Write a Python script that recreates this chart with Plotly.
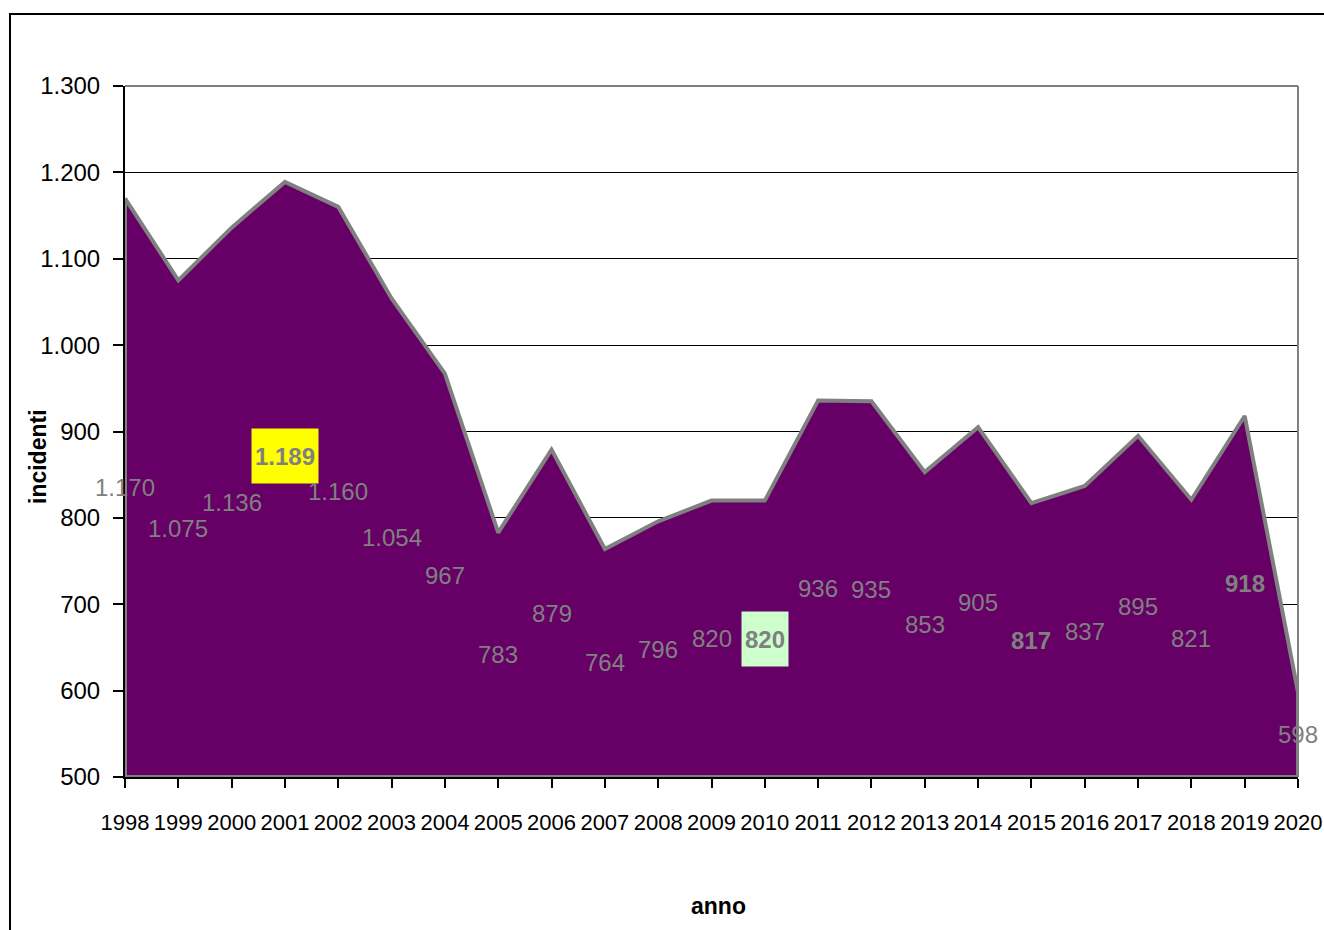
import plotly.graph_objects as go

# Incidenti per anno
anni = list(range(1998, 2021))
incidenti = [1170, 1075, 1136, 1189, 1160, 1054, 967, 783, 879, 764, 796, 820,
             820, 936, 935, 853, 905, 817, 837, 895, 821, 918, 598]

# Etichette evidenziate
grassetto = {2001, 2010, 2015, 2019}
sfondo = {2001: "#FFFF00", 2010: "#CCFFCC"}
spostamento = {2001: 23, 2019: 13}

Y_MIN, Y_MAX = 500, 1300
W, H = 1324, 930
ML, MR, MT, MB = 125, 26, 86, 153
PW, PH = W - ML - MR, H - MT - MB

FONT = "Liberation Sans, Arial"


def fmt(v):
    return f"{v:,}".replace(",", ".")


fig = go.Figure()

# Area chiusa fino al minimo dell'asse
fig.add_trace(go.Scatter(
    x=anni + [anni[-1], anni[0], anni[0]],
    y=incidenti + [Y_MIN, Y_MIN, incidenti[0]],
    mode="lines",
    fill="toself",
    fillcolor="#660066",
    line=dict(color="#808080", width=4),
    hoverinfo="skip",
    showlegend=False,
))

annotations = []
for anno, v in zip(anni, incidenti):
    testo = fmt(v)
    bold = anno in grassetto
    a = dict(
        x=anno, y=(Y_MIN + v) / 2, xref="x", yref="y",
        xanchor="center", yanchor="middle",
        text=f"<b>{testo}</b>" if bold else testo,
        showarrow=False,
        font=dict(family=FONT, size=24, color="#808080"),
        yshift=spostamento.get(anno, 0),
    )
    if anno in sfondo:
        a["bgcolor"] = sfondo[anno]
        a["width"] = 62 if anno == 2001 else 42
        a["height"] = 50
        a["borderpad"] = 2
    annotations.append(a)

# Titoli degli assi
annotations.append(dict(
    text="<b>incidenti</b>", x=(38 - ML) / PW, y=1 - (457 - MT) / PH,
    xref="paper", yref="paper", xanchor="center", yanchor="middle",
    showarrow=False, textangle=-90,
    font=dict(family=FONT, size=23, color="black"),
))
annotations.append(dict(
    text="<b>anno</b>", x=(718 - ML) / PW, y=1 - (906 - MT) / PH,
    xref="paper", yref="paper", xanchor="center", yanchor="middle",
    showarrow=False,
    font=dict(family=FONT, size=23, color="black"),
))

shapes = [
    # bordo superiore e destro dell'area del grafico
    dict(type="line", xref="paper", yref="paper", x0=0, x1=1, y0=1, y1=1,
         line=dict(color="#808080", width=2)),
    dict(type="line", xref="paper", yref="paper", x0=1, x1=1, y0=0, y1=1,
         line=dict(color="#808080", width=2)),
    # cornice esterna
    dict(type="rect", xref="paper", yref="paper",
         x0=(10 - ML) / PW, x1=(W + 20 - ML) / PW,
         y0=-(MB + 20) / PH, y1=1 + (MT - 14) / PH,
         line=dict(color="black", width=2)),
]

fig.update_layout(
    width=W, height=H,
    margin=dict(l=ML, r=MR, t=MT, b=MB, autoexpand=False),
    paper_bgcolor="white",
    plot_bgcolor="white",
    separators=",.",
    annotations=annotations,
    shapes=shapes,
    font=dict(family=FONT, color="black"),
)

fig.update_xaxes(
    range=[anni[0], anni[-1]],
    tickmode="array", tickvals=anni, ticktext=[str(a) for a in anni],
    tickangle=0,
    ticklabeloverflow="allow",
    automargin=False,
    ticks="outside", ticklen=9, tickwidth=2, tickcolor="black",
    showline=True, linecolor="black", linewidth=2,
    showgrid=False, zeroline=False,
    tickfont=dict(family=FONT, size=22, color="black"),
    ticklabelstandoff=16,
    fixedrange=True,
)
fig.update_yaxes(
    range=[Y_MIN, Y_MAX], dtick=100, tick0=0,
    tickformat=",d",
    automargin=False,
    ticks="outside", ticklen=10, tickwidth=2, tickcolor="black",
    showline=True, linecolor="black", linewidth=2,
    showgrid=True, gridcolor="black", gridwidth=1,
    zeroline=False,
    tickfont=dict(family=FONT, size=24, color="black"),
    ticklabelstandoff=8,
    fixedrange=True,
)

fig.write_html("out.html")
